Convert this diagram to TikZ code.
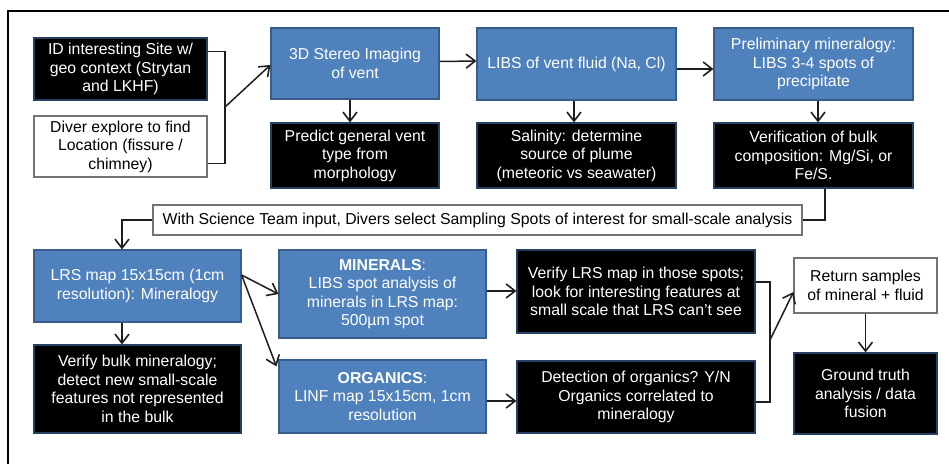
\documentclass[tikz,border=0pt]{standalone}
\usepackage{fontspec}
\setmainfont{Liberation Sans}
\definecolor{ventblue}{RGB}{79,129,189}
\definecolor{ventedge}{RGB}{56,93,138}
\definecolor{darkedge}{RGB}{38,64,100}
\definecolor{lineclr}{RGB}{30,30,30}
\usetikzlibrary{arrows.meta,calc}
\newcommand{\boxfont}{\fontsize{15.8}{18.5}\selectfont}

\begin{document}
\begin{tikzpicture}[x=1pt,y=-1pt,
  cell/.style={align=center,font=\boxfont,inner sep=2pt,line width=1.2pt},
  bluebox/.style={cell,draw=ventedge,fill=ventblue,text=white},
  darkbox/.style={cell,draw=darkedge,fill=black,text=white},
  plainbox/.style={cell,draw=black!55,fill=white,text=black},
  flowline/.style={line width=1.5pt,lineclr},
  flowarrow/.style={flowline,-{Straight Barb[length=9pt,width=14pt,line width=1.6pt]}}]
  \useasboundingbox (0,0) rectangle (949,463);
  \draw[line width=1.6pt] (8,480) -- (8,11) -- (960,11);
  % first row: site and vent survey
  \node[darkbox,minimum width=173pt,minimum height=62pt] (idsite) at (120.5,69) {ID interesting Site w/\\geo context (Strytan\\and LKHF)};
  \node[plainbox,minimum width=173pt,minimum height=61pt] (diver) at (120.5,146.5) {Diver explore to find\\Location (fissure /\\chimney)};
  \node[bluebox,minimum width=168pt,minimum height=71pt] (stereo) at (355,63.5) {3D Stereo Imaging\\of vent};
  \node[darkbox,minimum width=168pt,minimum height=65pt] (predict) at (355,155.5) {Predict general vent\\type from\\morphology};
  \node[bluebox,minimum width=199pt,minimum height=72pt] (libsfluid) at (576.5,64) {LIBS of vent fluid (Na, Cl)};
  \node[darkbox,minimum width=199pt,minimum height=65pt] (salinity) at (576.5,155.5) {Salinity: determine\\source of plume\\(meteoric vs seawater)};
  \node[bluebox,minimum width=199pt,minimum height=72pt] (prelim) at (813.5,64) {Preliminary mineralogy:\\LIBS 3-4 spots of\\precipitate};
  \node[darkbox,minimum width=199pt,minimum height=65pt] (verif) at (813.5,155.5) {Verification of bulk\\composition: Mg/Si, or\\Fe/S.};
  \node[plainbox,minimum width=649pt,minimum height=30pt] (banner) at (477.5,220) {With Science Team input, Divers select Sampling Spots of interest for small-scale analysis};
  % second row: sampling spots
  \node[bluebox,minimum width=207pt,minimum height=72pt] (lrs) at (137.5,286) {LRS map 15x15cm (1cm\\resolution): Mineralogy};
  \node[darkbox,minimum width=207pt,minimum height=88pt] (bulk) at (137.5,389) {Verify bulk mineralogy;\\detect new small-scale\\features not represented\\in the bulk};
  \node[bluebox,minimum width=207pt,minimum height=88pt] (minerals) at (382.5,294) {\textbf{MINERALS}:\\LIBS spot analysis of\\minerals in LRS map:\\500µm spot};
  \node[bluebox,minimum width=207pt,minimum height=73pt] (organics) at (382.5,396.5) {\textbf{ORGANICS}:\\LINF map 15x15cm, 1cm\\resolution};
  \node[darkbox,minimum width=238pt,minimum height=83pt] (verlrs) at (636,291.5) {Verify LRS map in those spots;\\look for interesting features at\\small scale that LRS can’t see};
  \node[darkbox,minimum width=238pt,minimum height=72pt] (detect) at (636,397) {Detection of organics? Y/N\\Organics correlated to\\mineralogy};
  \node[plainbox,minimum width=143pt,minimum height=55pt] (retsamp) at (865.5,285.5) {Return samples\\of mineral + fluid};
  \node[darkbox,minimum width=143pt,minimum height=81pt] (ground) at (865.5,393.5) {Ground truth\\analysis / data\\fusion};
  \coordinate (sitejoin) at (225,107);
  \coordinate (spotjoin) at (770,340);
  % connectors
  \draw[flowline] ([yshift=-14pt]idsite.north east) -| (sitejoin) |- ([yshift=14pt]diver.south east);
  \draw[flowarrow] (sitejoin) -- ([yshift=-1.5pt]stereo.west);
  \draw[flowarrow] ([yshift=2pt]stereo.east) -- ([yshift=3pt]libsfluid.west);
  \draw[flowarrow] ([yshift=-5pt]libsfluid.east) -- ([yshift=-5pt]prelim.west);
  \foreach \top/\bot/\dx in {stereo/predict/-5, libsfluid/salinity/-2.5, prelim/verif/4.5, retsamp/ground/0}{
    \draw[flowarrow] ([xshift=\dx pt]\top.south) -- ([xshift=\dx pt]\bot.north);
  }
  \draw[flowline] ([xshift=11.5pt]verif.south) |- (banner.east);
  \draw[flowarrow] (banner.west) -| ([xshift=-15.5pt]lrs.north);
  \draw[flowarrow] ([xshift=-15.5pt]lrs.south) -- ([xshift=-15.5pt]bulk.north);
  \draw[flowarrow] ([yshift=11pt]lrs.east) -- (minerals.west);
  \draw[flowarrow] ([yshift=11pt]lrs.east) -- ([xshift=-2pt,yshift=-7pt]organics.north west);
  \draw[flowarrow] ([yshift=3pt]minerals.east) -- ([yshift=0.5pt]verlrs.west);
  \draw[flowarrow] ([yshift=-4.5pt]organics.east) -- ([yshift=-4pt]detect.west);
  \draw[flowline] ([yshift=9.5pt]verlrs.east) -| (spotjoin) |- ([yshift=-5pt]detect.east);
  \draw[flowarrow] (spotjoin) -- ([yshift=-6.5pt]retsamp.west);
\end{tikzpicture}
\end{document}
